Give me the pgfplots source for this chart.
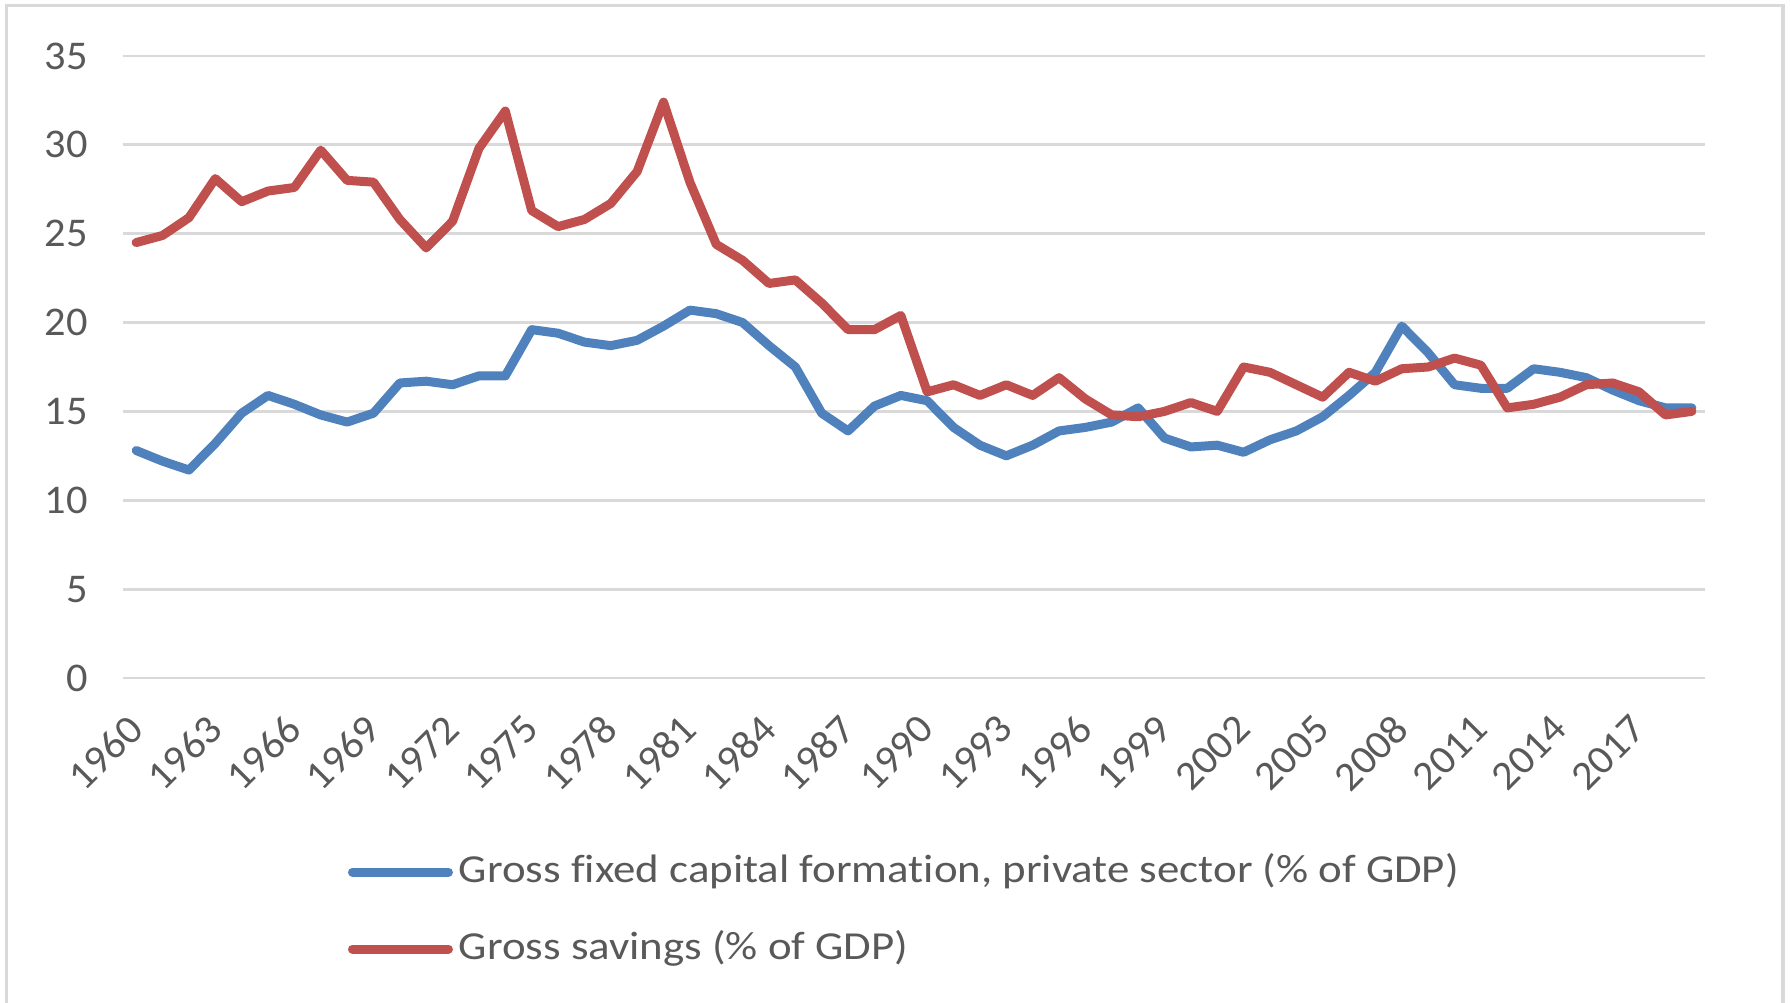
\documentclass[border=0pt]{standalone}
\usepackage{fontspec}
\setmainfont[Ligatures=NoCommon]{Carlito}
\newfontfamily\legfont[FakeStretch=1.13, Ligatures=NoCommon]{Carlito}
\newfontfamily\tickfont[FakeStretch=1.04, Ligatures=NoCommon]{Carlito}
\usepackage{pgfplots}
\pgfplotsset{compat=1.18}
\definecolor{sblue}{HTML}{4F81BD}
\definecolor{sred}{HTML}{C0504D}
\definecolor{gridgray}{HTML}{D9D9D9}
\definecolor{txtgray}{HTML}{595959}
\begin{document}
\begin{tikzpicture}
\useasboundingbox (0,0) rectangle (179mm,100.3mm);
\draw[gridgray, line width=0.35mm] (0.65mm,-1mm) -- (0.65mm,99.75mm) -- (178.3mm,99.75mm) -- (178.3mm,-1mm);
\begin{axis}[
  at={(12.3mm,32.5mm)}, anchor=south west,
  scale only axis, width=158.2mm, height=62.2mm,
  xmin=1959.5, xmax=2019.5, ymin=0, ymax=35,
  ytick={0,5,...,35},
  xtick={1960,1963,...,2017},
  axis line style={draw=none},
  major tick length=0pt,
  ymajorgrids, grid style={gridgray, line width=0.28mm},
  tick label style={font=\fontsize{11.6}{13}\selectfont\tickfont, text=txtgray},
  /pgf/number format/assume math mode=true,
  /pgf/number format/set thousands separator={},
  yticklabel style={anchor=east, xshift=-2.3mm},
  xticklabel style={yshift=-4.4mm, rotate=45, anchor=east, inner sep=0pt},
  clip=false,
  legend style={at={(0.1422,-0.2814)}, anchor=north west, draw=none, fill=none,
    inner sep=0pt, outer sep=0pt, row sep=3.9mm, column sep=0.6mm,
    font=\fontsize{11.3}{13}\selectfont\legfont, text=txtgray,
    nodes={inner sep=0pt, text height=2.9mm, text depth=0.9mm}},
  legend cell align=left,
  legend image code/.code={\draw[#1, line cap=round] (0mm,0mm) -- (9.6mm,0mm);},
]
\addplot[sblue, line width=0.9mm, line join=round, line cap=round] coordinates {
(1960,12.8) (1961,12.2) (1962,11.7) (1963,13.2) (1964,14.9) (1965,15.9)
(1966,15.4) (1967,14.8) (1968,14.4) (1969,14.9) (1970,16.6) (1971,16.7)
(1972,16.5) (1973,17.0) (1974,17.0) (1975,19.6) (1976,19.4) (1977,18.9)
(1978,18.7) (1979,19.0) (1980,19.8) (1981,20.7) (1982,20.5) (1983,20.0)
(1984,18.7) (1985,17.5) (1986,14.9) (1987,13.9) (1988,15.3) (1989,15.9)
(1990,15.6) (1991,14.1) (1992,13.1) (1993,12.5) (1994,13.1) (1995,13.9)
(1996,14.1) (1997,14.4) (1998,15.2) (1999,13.5) (2000,13.0) (2001,13.1)
(2002,12.7) (2003,13.4) (2004,13.9) (2005,14.7) (2006,15.9) (2007,17.2)
(2008,19.8) (2009,18.3) (2010,16.5) (2011,16.3) (2012,16.3) (2013,17.4)
(2014,17.2) (2015,16.9) (2016,16.2) (2017,15.6) (2018,15.2) (2019,15.2)
};
\addlegendentry{Gross fixed capital formation, private sector (\% of GDP)}
\addplot[sred, line width=0.9mm, line join=round, line cap=round] coordinates {
(1960,24.5) (1961,24.9) (1962,25.9) (1963,28.1) (1964,26.8) (1965,27.4)
(1966,27.6) (1967,29.7) (1968,28.0) (1969,27.9) (1970,25.8) (1971,24.2)
(1972,25.7) (1973,29.8) (1974,31.9) (1975,26.3) (1976,25.4) (1977,25.8)
(1978,26.7) (1979,28.5) (1980,32.4) (1981,27.9) (1982,24.4) (1983,23.5)
(1984,22.2) (1985,22.4) (1986,21.1) (1987,19.6) (1988,19.6) (1989,20.4)
(1990,16.1) (1991,16.5) (1992,15.9) (1993,16.5) (1994,15.9) (1995,16.9)
(1996,15.7) (1997,14.8) (1998,14.7) (1999,15.0) (2000,15.5) (2001,15.0)
(2002,17.5) (2003,17.2) (2004,16.5) (2005,15.8) (2006,17.2) (2007,16.7)
(2008,17.4) (2009,17.5) (2010,18.0) (2011,17.6) (2012,15.2) (2013,15.4)
(2014,15.8) (2015,16.5) (2016,16.6) (2017,16.1) (2018,14.8) (2019,15.0)
};
\addlegendentry{Gross savings (\% of GDP)}
\end{axis}
\end{tikzpicture}
\end{document}
